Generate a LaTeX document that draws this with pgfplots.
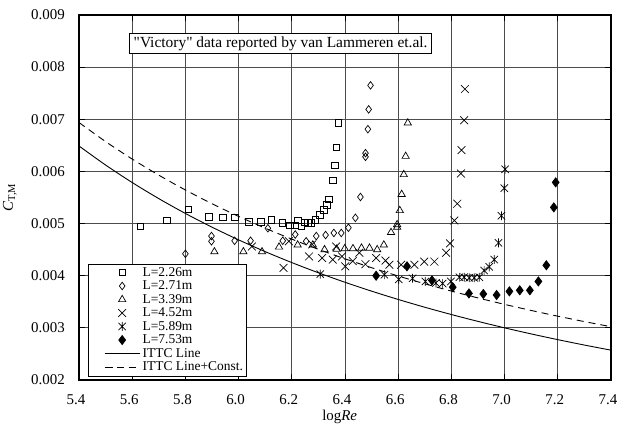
\documentclass[border=0pt]{standalone}
\usepackage{fontspec}
\setmainfont{Liberation Serif}
\usepackage{pgfplots}
\pgfplotsset{compat=1.18}

\pgfdeclareplotmark{xstar}{%
  \pgfpathmoveto{\pgfqpoint{-.7071\pgfplotmarksize}{-.7071\pgfplotmarksize}}%
  \pgfpathlineto{\pgfqpoint{.7071\pgfplotmarksize}{.7071\pgfplotmarksize}}%
  \pgfpathmoveto{\pgfqpoint{-.7071\pgfplotmarksize}{.7071\pgfplotmarksize}}%
  \pgfpathlineto{\pgfqpoint{.7071\pgfplotmarksize}{-.7071\pgfplotmarksize}}%
  \pgfpathmoveto{\pgfqpoint{0pt}{-.85\pgfplotmarksize}}%
  \pgfpathlineto{\pgfqpoint{0pt}{.85\pgfplotmarksize}}%
  \pgfusepathqstroke}

\begin{document}
\fontsize{15}{18}\selectfont
\begin{tikzpicture}
\begin{axis}[name=ax, scale only axis, width=532bp, height=365bp,
  xmin=5.4, xmax=7.4, ymin=0.002, ymax=0.009,
  xtick={5.4,5.6,5.8,6.0,6.2,6.4,6.6,6.8,7.0,7.2,7.4},
  ytick={0.002,0.003,0.004,0.005,0.006,0.007,0.008,0.009},
  scaled y ticks=false, scaled x ticks=false,
  /pgf/number format/assume math mode=true,
  x tick label style={/pgf/number format/.cd, fixed, fixed zerofill, precision=1, /tikz/.cd, yshift=-9bp, xshift=-3bp},
  y tick label style={/pgf/number format/.cd, fixed, fixed zerofill, precision=3, /tikz/.cd, xshift=-9bp},
  tick label style={font=\fontsize{15}{18}\selectfont},
  grid=major, major grid style={black!70, line width=0.8bp},
  axis line style={black, line width=1.2bp},
  tick align=inside, major tick length=6bp, tick style={black, line width=0.8bp},
  xlabel={log\textit{Re}},
  xlabel style={at={(axis description cs:0.49,-0.101)}, anchor=center, font=\fontsize{15}{18}\selectfont},
  ylabel={\textit{C}\textsubscript{T,M}},
  ylabel style={at={(axis description cs:-0.13,0.5)}, anchor=center, rotate=0, font=\fontsize{15}{18}\selectfont},
  legend style={at={(axis description cs:0.017,0.011)}, anchor=south west, draw=black, fill=white,
    font=\fontsize{13.5}{16}\selectfont, inner xsep=1bp, inner ysep=2bp, row sep=0bp,
    nodes={inner ysep=0.5bp, inner xsep=2.5bp, text height=10bp, text depth=2.5bp}},
  legend cell align=left,
  legend image code/.code={\path (-15bp,0bp); \draw[mark repeat=2,mark phase=2,#1] plot coordinates {(0bp,0bp)(17.5bp,0bp)(35bp,0bp)};},
]
\addplot[only marks, mark=square, mark size=3.2bp, mark options={line width=0.7bp, black}] coordinates {
(5.631,0.00495)(5.731,0.00506)(5.810,0.00527)(5.888,0.00513)(5.941,0.00512)(5.986,0.00512)
(6.038,0.00503)(6.083,0.00503)(6.124,0.00507)(6.164,0.00501)(6.192,0.00497)(6.212,0.00496)
(6.222,0.00506)(6.236,0.00495)(6.248,0.00502)(6.260,0.00501)(6.274,0.00501)(6.288,0.00507)
(6.305,0.00517)(6.320,0.00526)(6.332,0.00536)(6.339,0.00547)(6.354,0.00583)(6.362,0.00612)
(6.368,0.00646)(6.374,0.00693)};
\addlegendentry{L=2.26m}
\addplot[only marks, mark=diamond, mark size=3.8bp, mark options={line width=0.7bp, black}] coordinates {
(5.800,0.00442)(5.898,0.00476)(5.898,0.00466)(5.985,0.00467)(6.045,0.00467)(6.110,0.00491)
(6.166,0.00467)(6.213,0.00479)(6.254,0.00466)(6.292,0.00476)(6.327,0.00478)(6.358,0.00482)
(6.386,0.00482)(6.413,0.00492)(6.439,0.00511)(6.458,0.00551)(6.477,0.00628)(6.477,0.00635)
(6.486,0.00681)(6.489,0.00719)(6.496,0.00765)};
\addlegendentry{L=2.71m}
\addplot[only marks, mark=triangle, mark size=4.2bp, mark options={line width=0.7bp, black}] coordinates {
(5.909,0.00446)(6.018,0.00446)(6.088,0.00446)(6.152,0.00455)(6.222,0.00459)(6.279,0.00459)
(6.323,0.00450)(6.369,0.00451)(6.399,0.00452)(6.430,0.00452)(6.462,0.00453)(6.492,0.00453)
(6.521,0.00450)(6.546,0.00459)(6.573,0.00483)(6.596,0.00493)(6.596,0.00498)(6.606,0.00525)
(6.613,0.00556)(6.621,0.00594)(6.628,0.00629)(6.636,0.00693)};
\addlegendentry{L=3.39m}
\addplot[only marks, mark=x, mark size=5.5bp, mark options={line width=0.7bp, black}] coordinates {
(6.050,0.00456)(6.169,0.00415)(6.189,0.00466)(6.265,0.00437)(6.277,0.00460)(6.314,0.00434)
(6.354,0.00431)(6.367,0.00456)(6.389,0.00437)(6.401,0.00418)(6.429,0.00428)(6.454,0.00444)
(6.477,0.00422)(6.517,0.00434)(6.552,0.00429)(6.567,0.00421)(6.611,0.00421)(6.661,0.00421)
(6.698,0.00427)(6.736,0.00427)(6.780,0.00444)(6.795,0.00462)(6.811,0.00506)(6.822,0.00538)
(6.836,0.00596)(6.838,0.00641)(6.848,0.00698)(6.851,0.00758)};
\addlegendentry{L=4.52m}
\addplot[only marks, mark=xstar, mark size=5.2bp, mark options={line width=0.7bp, black}] coordinates {
(6.307,0.00403)(6.548,0.00402)(6.602,0.00393)(6.654,0.00395)(6.702,0.00389)(6.742,0.00386)
(6.767,0.00385)(6.798,0.00389)(6.830,0.00397)(6.848,0.00397)(6.867,0.00396)(6.886,0.00396)
(6.905,0.00397)(6.923,0.00410)(6.942,0.00417)(6.961,0.00431)(6.977,0.00463)(6.988,0.00515)
(6.999,0.00568)(7.002,0.00604)};
\addlegendentry{L=5.89m}
\addplot[only marks, mark=diamond*, mark size=4.6bp, mark options={line width=0.7bp, black, fill=black}] coordinates {
(6.517,0.00400)(6.633,0.00418)(6.727,0.00391)(6.805,0.00378)(6.866,0.00366)(6.920,0.00365)
(6.970,0.00363)(7.018,0.00370)(7.057,0.00372)(7.095,0.00372)(7.127,0.00389)(7.157,0.00420)
(7.185,0.00531)(7.192,0.00579)};
\addlegendentry{L=7.53m}
\addplot[black, line width=0.9bp, no marks, smooth] coordinates {
(5.4,0.0064879)(5.5,0.0061224)(5.6,0.0057870)(5.7,0.0054785)(5.8,0.0051939)(5.9,0.0049310)
(6.0,0.0046875)(6.1,0.0044616)(6.2,0.0042517)(6.3,0.0040562)(6.4,0.0038740)(6.5,0.0037037)
(6.6,0.0035444)(6.7,0.0033952)(6.8,0.0032552)(6.9,0.0031237)(7.0,0.0030000)(7.1,0.0028835)
(7.2,0.0027737)(7.3,0.0026700)(7.4,0.0025720)};
\addlegendentry{ITTC Line}
\addplot[black, line width=0.9bp, no marks, smooth, dash pattern=on 7bp off 5bp] coordinates {
(5.4,0.0069379)(5.5,0.0065724)(5.6,0.0062370)(5.7,0.0059285)(5.8,0.0056439)(5.9,0.0053810)
(6.0,0.0051375)(6.1,0.0049116)(6.2,0.0047017)(6.3,0.0045062)(6.4,0.0043240)(6.5,0.0041537)
(6.6,0.0039944)(6.7,0.0038452)(6.8,0.0037052)(6.9,0.0035737)(7.0,0.0034500)(7.1,0.0033335)
(7.2,0.0032237)(7.3,0.0031200)(7.4,0.0030220)};
\addlegendentry{ITTC Line+Const.}
\node[draw=black, fill=white, line width=0.8bp, inner xsep=4bp, inner ysep=3bp, font=\fontsize{15.5}{18}\selectfont]
  at (axis cs:6.158,0.008452) {\textquotedbl Victory\textquotedbl{} data reported by van Lammeren et.al.};
\end{axis}
\pgfresetboundingbox
\path[use as bounding box] ([xshift=-79bp,yshift=-61bp]ax.south west) rectangle ([xshift=8bp,yshift=15bp]ax.north east);
\end{tikzpicture}
\end{document}
